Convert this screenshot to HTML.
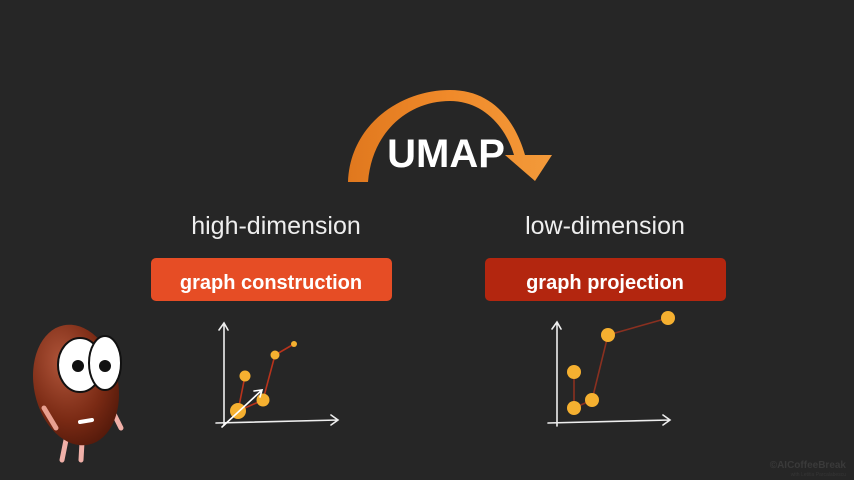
<!DOCTYPE html>
<html><head><meta charset="utf-8"><style>
html,body{margin:0;padding:0;background:#262626;}
svg{display:block}
text{font-family:"Liberation Sans",sans-serif;}
</style></head><body>
<svg width="854" height="480" viewBox="0 0 854 480" xmlns="http://www.w3.org/2000/svg">
<defs>
<linearGradient id="arc" x1="0" y1="0" x2="1" y2="0">
<stop offset="0" stop-color="#e0781e"/><stop offset="0.5" stop-color="#f08a2a"/><stop offset="1" stop-color="#f39a3a"/>
</linearGradient>
<radialGradient id="bean" cx="0.4" cy="0.3" r="0.8">
<stop offset="0" stop-color="#b0553a"/><stop offset="0.6" stop-color="#7a2a14"/><stop offset="1" stop-color="#4a1508"/>
</radialGradient>
</defs>
<rect width="854" height="480" fill="#262626"/>
<path d="M348,182 C350,125 400,90 450,90 C492,90 515,120 525,155 L552,155 L535,181 L505,155 L514,155 C505,125 482,101 450,101 C408,101 372,132 368,182 Z" fill="url(#arc)"/>
<text x="446" y="167" font-size="40" font-weight="bold" fill="#fff" text-anchor="middle">UMAP</text>
<text x="276" y="234" font-size="25" fill="#eee" text-anchor="middle">high-dimension</text>
<text x="605" y="234" font-size="25" fill="#eee" text-anchor="middle">low-dimension</text>
<rect x="151" y="258" width="241" height="43" rx="5" fill="#e64d25"/>
<rect x="485" y="258" width="241" height="43" rx="5" fill="#b3260f"/>
<text x="271" y="289" font-size="20" font-weight="bold" fill="#fff" text-anchor="middle">graph construction</text>
<text x="605" y="289" font-size="20" font-weight="bold" fill="#fff" text-anchor="middle">graph projection</text>
<g stroke="#eee" stroke-width="1.6" fill="none" stroke-linecap="round">
<path d="M224,425 L224,323 M219,330 L224,323 L228,330"/>
<path d="M216,423 L338,420 M331,415 L338,420 L331,425"/>
<path d="M557,426 L557,322 M552,329 L557,322 L561,329"/>
<path d="M548,423 L670,420 M663,415 L670,420 L663,425"/>
</g>
<g stroke="#b8331c" stroke-width="1.6" fill="none">
<path d="M238,411 L245,376 M238,411 L263,400 L275,355 L294,344"/>
<path d="M574,372 L574,408 L592,400 L608,335 L668,318" stroke="#8a3020"/>
</g>
<g fill="#f5b030">
<circle cx="238" cy="411" r="8"/><circle cx="263" cy="400" r="6.5"/><circle cx="245" cy="376" r="5.5"/><circle cx="275" cy="355" r="4.5"/><circle cx="294" cy="344" r="3"/>
<circle cx="574" cy="408" r="7"/><circle cx="592" cy="400" r="7"/><circle cx="574" cy="372" r="7"/><circle cx="608" cy="335" r="7"/><circle cx="668" cy="318" r="7"/>
</g>
<g stroke="#fff" stroke-width="1.6" fill="none" stroke-linecap="round">
<path d="M222,427 L262,390 M254,391 L262,390 L260,397"/>
</g>
<g stroke="#f0b0a8" stroke-width="5" stroke-linecap="round">
<path d="M66,440 L62,460 M82,442 L81,460 M112,410 L121,428"/>
</g>
<ellipse cx="76" cy="385" rx="42" ry="61" transform="rotate(-12 76 385)" fill="url(#bean)"/>
<path d="M44,408 L56,428" stroke="#e8a090" stroke-width="5" stroke-linecap="round"/>
<ellipse cx="80" cy="365" rx="22" ry="27" fill="#fff" stroke="#111" stroke-width="2"/>
<ellipse cx="105" cy="363" rx="16" ry="27" fill="#fff" stroke="#111" stroke-width="2"/>
<circle cx="78" cy="366" r="6" fill="#111"/>
<circle cx="105" cy="366" r="6" fill="#111"/>
<path d="M80,422 L92,420" stroke="#fff" stroke-width="4" stroke-linecap="round"/>
<text x="846" y="468" font-size="10" font-weight="bold" fill="#3a3a3a" text-anchor="end">©AICoffeeBreak</text>
<text x="846" y="476" font-size="5" fill="#363636" text-anchor="end">with Letitia Parcalabescu</text>
</svg>
</body></html>
